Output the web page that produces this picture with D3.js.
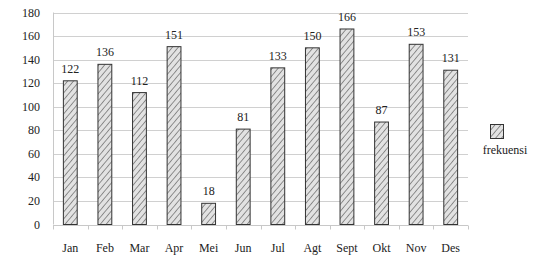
<!DOCTYPE html>
<html>
<head>
<meta charset="utf-8">
<script src="https://cdn.jsdelivr.net/npm/d3@7"></script>
<style>
  body { margin: 0; background: #fff; }
</style>
</head>
<body>
<svg id="chart" width="537" height="266"></svg>
<script>
const months = ["Jan", "Feb", "Mar", "Apr", "Mei", "Jun", "Jul", "Agt", "Sept", "Okt", "Nov", "Des"];
const frekuensi = [122, 136, 112, 151, 18, 81, 133, 150, 166, 87, 153, 131];
const yTicks = [0, 20, 40, 60, 80, 100, 120, 140, 160, 180];
const seriesName = "frekuensi";

const FONT = "'Liberation Serif', 'Times New Roman', 'DejaVu Serif', serif";

const svg = d3.select("#chart")
    .attr("font-family", FONT);
const margin = { left: 53, right: 69, top: 12.5, bottom: 41.5 };
const width = 537, height = 266;

const x = d3.scaleBand()
    .domain(months)
    .range([margin.left, width - margin.right])
    .paddingInner(0.6)
    .paddingOuter(0.3);

const y = d3.scaleLinear()
    .domain([0, 180])
    .range([height - margin.bottom, margin.top]);

// hatch pattern
const defs = svg.append("defs");
const pat = defs.append("pattern")
    .attr("id", "hatch")
    .attr("patternUnits", "userSpaceOnUse")
    .attr("width", 4.5)
    .attr("height", 4.5)
    .attr("patternTransform", "rotate(40)");
pat.append("rect").attr("width", 4.5).attr("height", 4.5).attr("fill", "#e2e2e2");
pat.append("line")
    .attr("x1", 0).attr("y1", 0).attr("x2", 0).attr("y2", 4.5)
    .attr("stroke", "#3a3a3a").attr("stroke-width", 1);

// gridlines
svg.append("g")
    .selectAll("line")
    .data(yTicks.filter(d => d > 0))
    .enter().append("line")
    .attr("x1", margin.left)
    .attr("x2", width - margin.right)
    .attr("y1", d => Math.round(y(d)) + 0.5)
    .attr("y2", d => Math.round(y(d)) + 0.5)
    .attr("stroke", "#d0d0d0")
    .attr("stroke-width", 1);

// y axis labels
svg.append("g")
    .selectAll("text")
    .data(yTicks)
    .enter().append("text")
    .attr("x", 40)
    .attr("y", d => y(d) + 4)
    .attr("text-anchor", "end")
    .attr("font-size", "12px")
    .attr("fill", "#222")
    .text(d => d);

// y axis line
svg.append("line")
    .attr("x1", margin.left + 0.5).attr("x2", margin.left + 0.5)
    .attr("y1", margin.top).attr("y2", y(0))
    .attr("stroke", "#c8c8c8");

// x axis line and ticks
const x0 = Math.round(y(0)) + 0.5;
svg.append("line")
    .attr("x1", margin.left).attr("x2", width - margin.right)
    .attr("y1", x0).attr("y2", x0)
    .attr("stroke", "#c8c8c8");

const bounds = d3.range(months.length + 1).map(i => margin.left + i * (width - margin.left - margin.right) / months.length);
svg.append("g")
    .selectAll("line")
    .data(bounds)
    .enter().append("line")
    .attr("x1", d => Math.round(d) + 0.5)
    .attr("x2", d => Math.round(d) + 0.5)
    .attr("y1", x0)
    .attr("y2", x0 + 4)
    .attr("stroke", "#c8c8c8");

// bars
svg.append("g")
    .selectAll("rect")
    .data(frekuensi)
    .enter().append("rect")
    .attr("x", (d, i) => x(months[i]))
    .attr("y", d => y(d))
    .attr("width", x.bandwidth())
    .attr("height", d => y(0) - y(d))
    .attr("fill", "url(#hatch)")
    .attr("stroke", "#333")
    .attr("stroke-width", 1);

// value labels
svg.append("g")
    .selectAll("text")
    .data(frekuensi)
    .enter().append("text")
    .attr("x", (d, i) => x(months[i]) + x.bandwidth() / 2)
    .attr("y", d => y(d) - 8)
    .attr("text-anchor", "middle")
    .attr("font-size", "12px")
    .attr("fill", "#222")
    .text(d => d);

// category labels
svg.append("g")
    .selectAll("text")
    .data(months)
    .enter().append("text")
    .attr("x", d => x(d) + x.bandwidth() / 2)
    .attr("y", 252)
    .attr("text-anchor", "middle")
    .attr("font-size", "12px")
    .attr("fill", "#222")
    .text(d => d);

// legend
svg.append("rect")
    .attr("x", 490.5).attr("y", 124.5)
    .attr("width", 13).attr("height", 14)
    .attr("fill", "url(#hatch)")
    .attr("stroke", "#333");
svg.append("text")
    .attr("x", 505)
    .attr("y", 154)
    .attr("text-anchor", "middle")
    .attr("font-size", "12px")
    .attr("fill", "#222")
    .text(seriesName);
</script>
</body>
</html>
